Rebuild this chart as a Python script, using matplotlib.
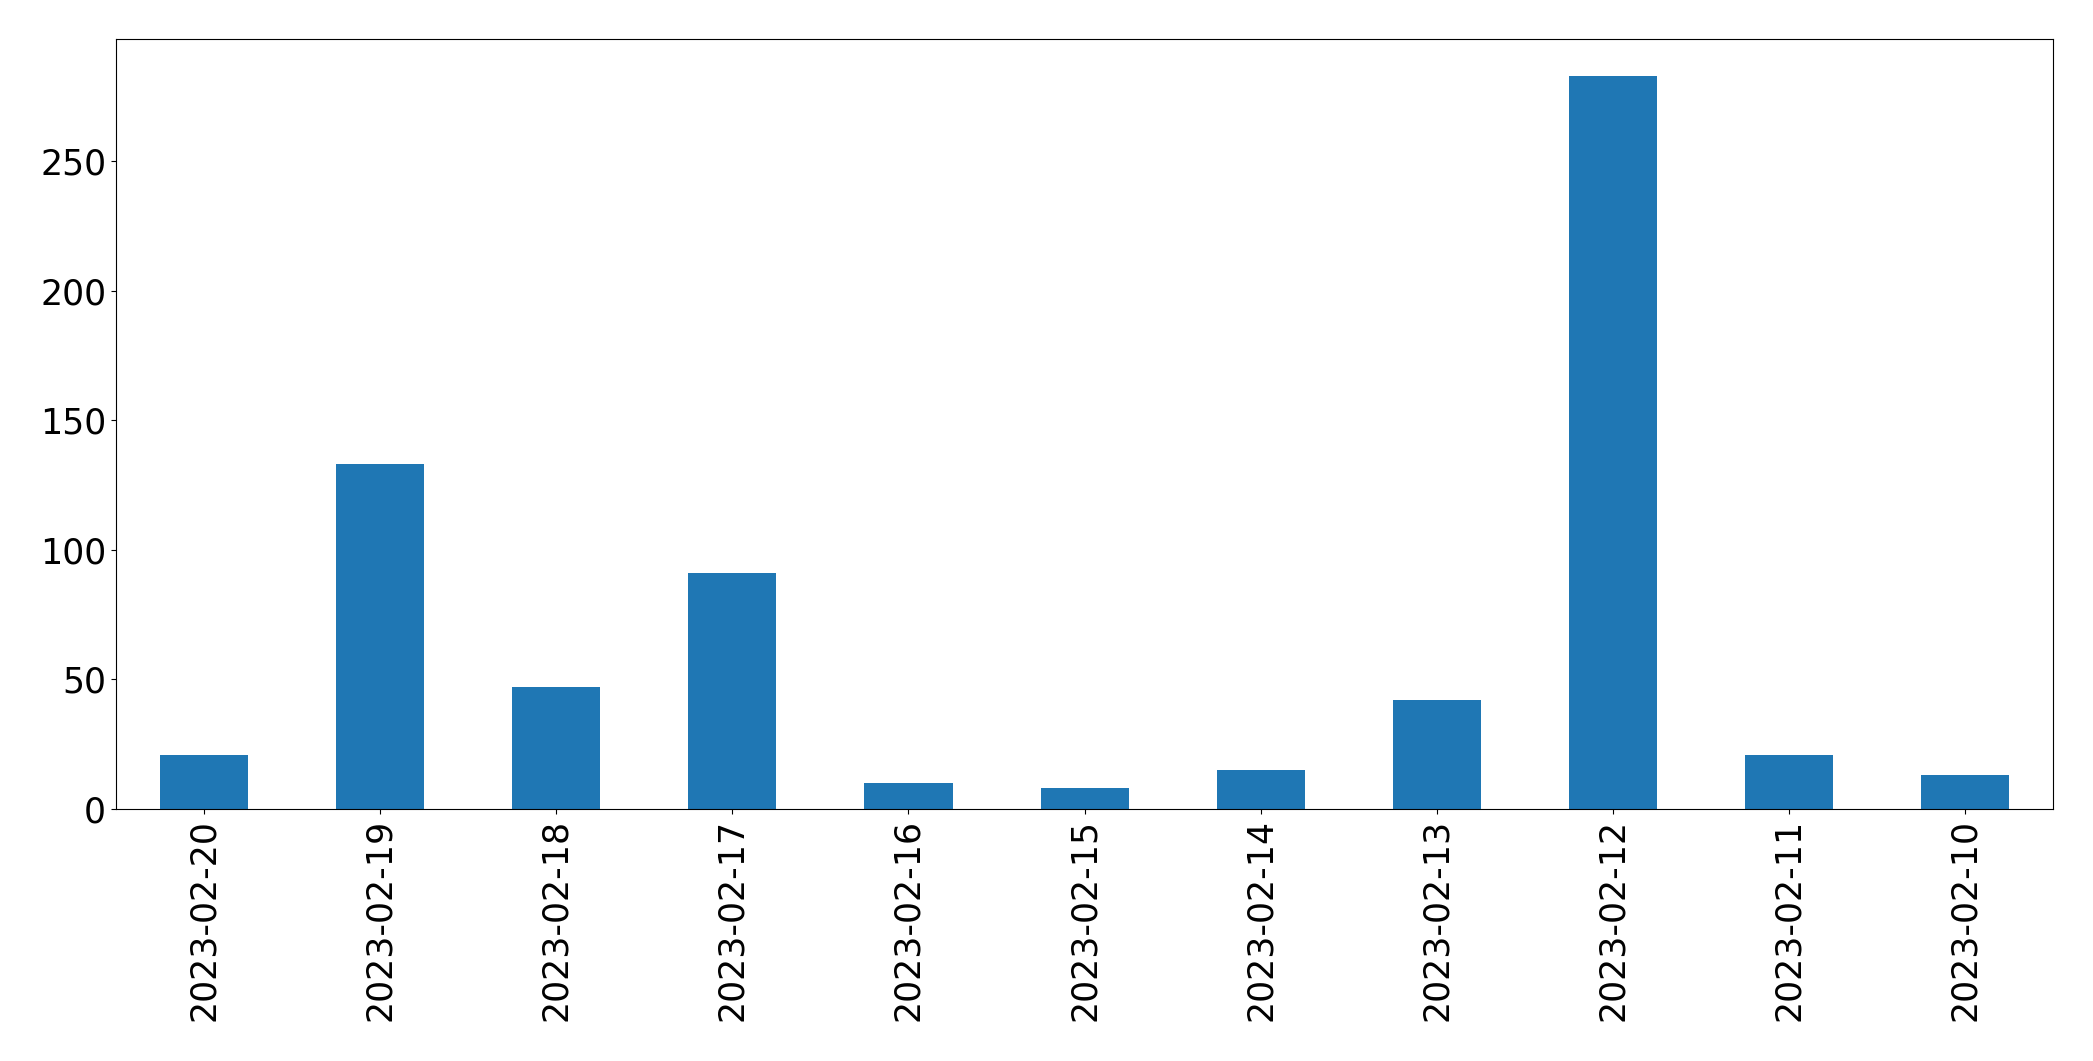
import matplotlib
matplotlib.use('Agg')
import matplotlib.pyplot as plt
import numpy as np

# dates, newest first
dates = ['2023-02-20', '2023-02-19', '2023-02-18', '2023-02-17', '2023-02-16',
         '2023-02-15', '2023-02-14', '2023-02-13', '2023-02-12', '2023-02-11',
         '2023-02-10']
counts = [21, 133, 47, 91, 10, 8, 15, 42, 283, 21, 13]

fig = plt.figure(figsize=[20.93, 10.61], dpi=100)
ax = fig.add_axes([0.0554, 0.2375, 0.9256, 0.7255])
x = np.arange(len(dates))
ax.bar(x, counts, width=0.5, color='#1f77b4')
ax.set_xlim(-0.5, len(dates) - 0.5)
ax.set_xticks(x)
ax.set_xticklabels(dates, rotation=90)
ax.tick_params(labelsize=25)
plt.savefig('out.png', dpi=100)
